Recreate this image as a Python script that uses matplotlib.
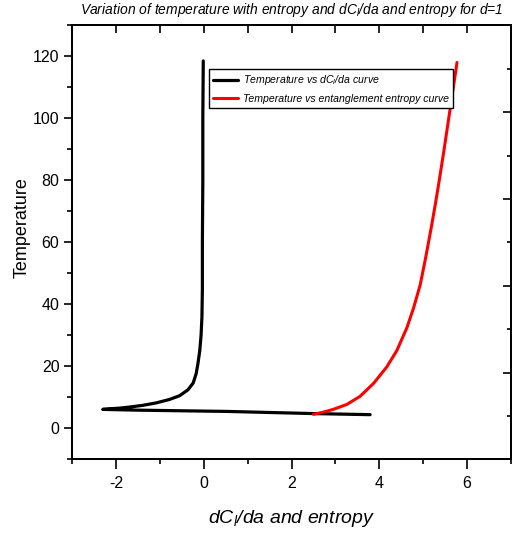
import matplotlib
matplotlib.use("Agg")
import matplotlib.pyplot as plt
from matplotlib.ticker import MultipleLocator, FixedLocator

plt.rcParams['font.family'] = ['Liberation Sans', 'DejaVu Sans']
plt.rcParams['mathtext.fontset'] = 'custom'
plt.rcParams['mathtext.rm'] = 'Liberation Sans'
plt.rcParams['mathtext.it'] = 'Liberation Sans:italic'
plt.rcParams['axes.unicode_minus'] = False

# data
black_x = [-0.01, -0.02, -0.02, -0.03, -0.03, -0.04, -0.06, -0.09, -0.13, -0.17, -0.24,
           -0.36, -0.55, -0.78, -1.08, -1.39, -1.69, -1.92, -2.15, -2.30,
           -1.50, -0.50, 0.52, 1.50, 2.50, 3.79]
black_y = [118.5, 100, 80, 60, 45, 36, 30, 25, 21, 17.7, 14.6,
           12.4, 10.5, 9.3, 8.2, 7.4, 6.85, 6.5, 6.3, 6.1,
           5.85, 5.65, 5.45, 5.1, 4.75, 4.4]
red_x = [2.50, 2.72, 2.95, 3.26, 3.56, 3.87, 4.17, 4.40, 4.63, 4.78, 4.93, 5.05, 5.175,
         5.28, 5.365, 5.47, 5.57, 5.67, 5.77]
red_y = [4.5, 5.2, 6.1, 7.7, 10.3, 14.5, 19.8, 25.1, 32.5, 38.8, 46.2, 54.6, 64.1,
         72.6, 79.9, 89.4, 98.9, 108.4, 118.0]

W, H = 516, 537
fig = plt.figure(figsize=(W / 100, H / 100), dpi=100)
ax = fig.add_axes([72 / W, 1 - 459.3 / H, (511 - 72) / W, (459.3 - 25.3) / H])

l1, = ax.plot(black_x, black_y, color='black', lw=2.3, solid_capstyle='round',
              solid_joinstyle='round')
l2, = ax.plot(red_x, red_y, color='red', lw=2.2, solid_capstyle='round',
              solid_joinstyle='round')

ax.set_xlim(-3, 7)
ax.set_ylim(-10, 130)
ax.xaxis.set_major_locator(MultipleLocator(2))
ax.xaxis.set_minor_locator(MultipleLocator(1))
ax.yaxis.set_major_locator(MultipleLocator(20))
ax.yaxis.set_minor_locator(MultipleLocator(10))
ax.tick_params(which='major', direction='out', length=6, width=1.2, labelsize=11.5, pad=3)
ax.tick_params(which='minor', direction='out', length=3.5, width=1.2)
ax.tick_params(axis='x', which='major', length=7, pad=5)
for s in ax.spines.values():
    s.set_linewidth(1.3)

ax.set_xlabel(r"dC$_l$/da and entropy", fontsize=14, style='italic', labelpad=12)
ax.set_ylabel("Temperature", fontsize=13)
ax.yaxis.set_label_coords(-(72 - 31) / 439, 0.535)
ax.set_title(r"Variation of temperature with entropy and dC$_l$/da and entropy for d=1",
             fontsize=10, style='italic', pad=8)

# top axis: inward ticks every unit, no labels
axt = ax.twiny()
axt.set_xlim(-3, 7)
axt.xaxis.set_major_locator(MultipleLocator(1))
axt.tick_params(axis='x', direction='in', length=6, width=1.2, labeltop=False)
# right axis: inward ticks, 5 divisions, no labels
axr = ax.twinx()
axr.set_ylim(0, 5)
axr.yaxis.set_major_locator(FixedLocator([1, 2, 3, 4]))
axr.yaxis.set_minor_locator(FixedLocator([0.5, 1.5, 2.5, 3.5, 4.5]))
axr.tick_params(axis='y', which='major', direction='in', length=6, width=1.2, labelright=False)
axr.tick_params(axis='y', which='minor', direction='in', length=3, width=1.2)
for a in (axt, axr):
    for s in a.spines.values():
        s.set_linewidth(1.3)

leg = axr.legend([l1, l2],
                 [r"Temperature vs dC$_l$/da curve", "Temperature vs entanglement entropy curve"],
                 loc='upper left', bbox_to_anchor=(209 / W, 1 - 69.3 / H),
                 bbox_transform=fig.transFigure, borderaxespad=0,
                 prop={'size': 7.6, 'style': 'italic'}, fancybox=False,
                 edgecolor='black', framealpha=1, handlelength=2.4,
                 handletextpad=0.4, labelspacing=0.6, borderpad=0.38)
leg.get_frame().set_linewidth(1.0)

fig.savefig("out.png", dpi=100)
